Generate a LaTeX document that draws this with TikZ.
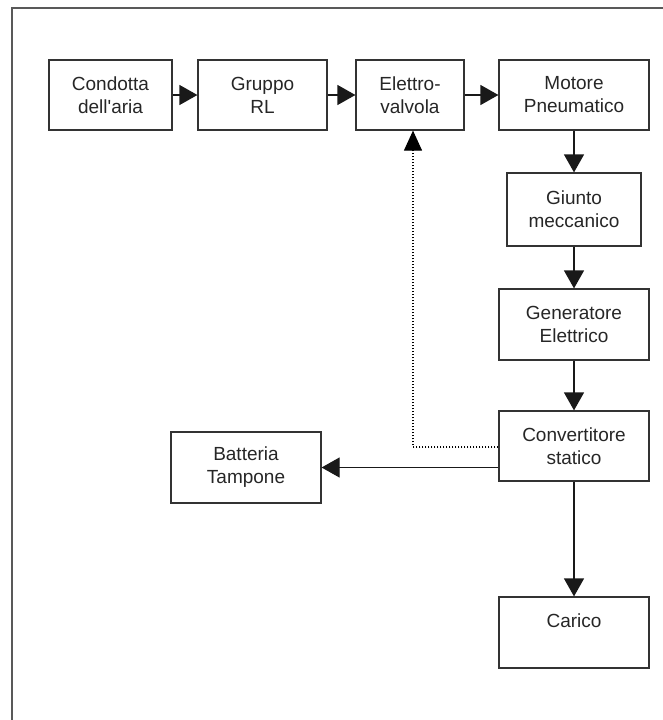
\documentclass[tikz,border=0pt]{standalone}
\usepackage{fontspec}
\setmainfont{Liberation Sans}[Ligatures=TeXOff]
\usetikzlibrary{arrows.meta}
\begin{document}
\begin{tikzpicture}[x=1pt,y=-1pt,
  box/.style={draw=black!80, line width=1.2pt, align=center, inner sep=0pt,
    font=\fontsize{19}{23}\selectfont, text=black!85},
  conn/.style={line width=1.2pt, draw=black!90, -{Triangle[length=18pt,width=20pt]}},
  fb/.style={line width=1.1pt, draw=black, dash pattern=on 1pt off 2pt, -{Triangle[length=20pt,width=18pt]}},
  frame/.style={line width=2pt, draw=black!65}]
\useasboundingbox (0,0) rectangle (663,720);
\draw[frame] (12,720) -- (12,8) -- (663,8);
\node[box, minimum width=123pt, minimum height=70pt] (cond) at (110.5,95) {Condotta\\dell'aria};
\node[box, minimum width=129pt, minimum height=70pt] (grp) at (262.5,95) {Gruppo\\RL};
\node[box, minimum width=108pt, minimum height=70pt] (ele) at (410,95) {Elettro-\\valvola};
\node[box, minimum width=150pt, minimum height=70pt] (mot) at (574,95) {Motore\\Pneumatico};
\node[box, minimum width=134pt, minimum height=73pt] (giu) at (574,209.5) {Giunto\\meccanico};
\node[box, minimum width=150pt, minimum height=71pt] (gen) at (574,324.5) {Generatore\\Elettrico};
\node[box, minimum width=150pt, minimum height=70pt] (conv) at (574,446) {Convertitore\\statico};
\node[box, minimum width=150pt, minimum height=71pt] (bat) at (246,467.5) {Batteria\\Tampone};
\node[box, minimum width=150pt, minimum height=71pt] (car) at (574,632.5) {Carico\\~};
\draw[conn] (cond) -- (grp);
\draw[conn] (grp) -- (ele);
\draw[conn] (ele) -- (mot);
\draw[conn] (mot) -- (giu);
\draw[conn] (giu) -- (gen);
\draw[conn] (gen) -- (conv);
\draw[conn] (conv) -- (car);
\draw[conn] (conv.west |- bat.east) -- (bat.east);
\draw[fb] ([yshift=-1pt]conv.west) -| ([xshift=3pt]ele.south);
\end{tikzpicture}
\end{document}
